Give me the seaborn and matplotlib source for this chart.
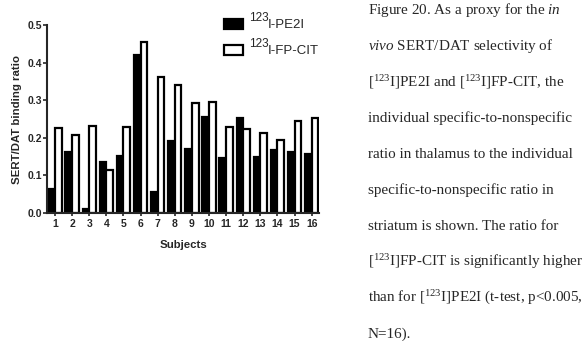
import matplotlib
matplotlib.use("Agg")
import matplotlib.pyplot as plt
import seaborn as sns
import pandas as pd
from matplotlib.patches import Patch

subjects = [str(i) for i in range(1, 17)]
pe2i = [0.065, 0.163, 0.011, 0.135, 0.151, 0.421, 0.055, 0.191, 0.170, 0.256, 0.146, 0.253, 0.148, 0.168, 0.163, 0.158]
fpcit = [0.225, 0.208, 0.232, 0.115, 0.230, 0.455, 0.361, 0.340, 0.292, 0.295, 0.229, 0.223, 0.212, 0.193, 0.244, 0.253]
series_names = ["I-PE2I", "I-FP-CIT"]
series_prefix = "123"
yticks = [0.0, 0.1, 0.2, 0.3, 0.4, 0.5]

caption_lines = [
    "Figure 20. As a proxy for the $\\mathit{in}$",
    "$\\mathit{vivo}$ SERT/DAT selectivity of",
    "[$^{\\mathrm{123}}$I]PE2I and [$^{\\mathrm{123}}$I]FP-CIT, the",
    "individual specific-to-nonspecific",
    "ratio in thalamus to the individual",
    "specific-to-nonspecific ratio in",
    "striatum is shown. The ratio for",
    "[$^{\\mathrm{123}}$I]FP-CIT is significantly higher",
    "than for [$^{\\mathrm{123}}$I]PE2I (t-test, p<0.005,",
    "N=16).",
]

sns.set_style("ticks")
plt.rcParams["font.family"] = ["Liberation Sans", "DejaVu Sans"]
plt.rcParams["mathtext.fontset"] = "custom"
plt.rcParams["mathtext.rm"] = "Liberation Serif"
plt.rcParams["mathtext.it"] = "Liberation Serif:italic"
plt.rcParams["mathtext.sf"] = "Liberation Sans"

df = pd.DataFrame({
    "Subject": subjects * 2,
    "value": pe2i + fpcit,
    "tracer": [series_names[0]] * 16 + [series_names[1]] * 16,
})

fig = plt.figure(figsize=(5.84, 3.41), dpi=100)
ax = fig.add_axes([0.081, 0.375, 0.465, 0.552])
sns.barplot(data=df, x="Subject", y="value", hue="tracer",
            palette=["black", "white"], edgecolor="black", linewidth=1.6,
            width=0.78, gap=0, ax=ax, legend=False, errorbar=None)

ax.set_ylim(0, 0.5)
ax.set_xlim(-0.45, 15.42)
ax.set_yticks(yticks)
ax.set_yticklabels([f"{t:.1f}" for t in yticks], fontweight="bold", fontsize=7.5)
ax.set_xticklabels(subjects, fontweight="bold", fontsize=7.5)
ax.tick_params(axis="y", length=3, width=1.2, pad=1)
ax.tick_params(axis="x", length=2.5, width=1.2, pad=2)
for s in ["top", "right"]:
    ax.spines[s].set_visible(False)
for s in ["left", "bottom"]:
    ax.spines[s].set_linewidth(1.5)
ax.set_ylabel("SERT/DAT binding ratio", fontweight="bold", fontsize=8.2, labelpad=4)
ax.set_xlabel("Subjects", fontweight="bold", fontsize=8.2, labelpad=8)

handles = [Patch(facecolor="black", edgecolor="black", linewidth=1.6),
           Patch(facecolor="white", edgecolor="black", linewidth=1.6)]
leg = fig.legend(handles, series_names, loc="upper left",
                 bbox_to_anchor=(224 / 584, 1 - 18.5 / 341), frameon=False,
                 fontsize=9.5, handlelength=1.45, handleheight=0.85,
                 labelspacing=1.0, handletextpad=1.9, borderpad=0,
                 borderaxespad=0)
fig.canvas.draw()
for t in leg.get_texts():
    fig.add_artist(plt.Annotation(series_prefix, xy=(0, 0.5), xycoords=t,
                                  xytext=(0, 5.5), textcoords="offset points",
                                  ha="right", va="center", fontsize=8.5,
                                  annotation_clip=False))

y0 = 1 - 10 / 341
dy = 36 / 341
for i, line in enumerate(caption_lines):
    fig.text(368 / 584, y0 - i * dy, line, fontsize=10.9,
             family="Liberation Serif", va="center", ha="left")

fig.savefig("out.png", dpi=100)
